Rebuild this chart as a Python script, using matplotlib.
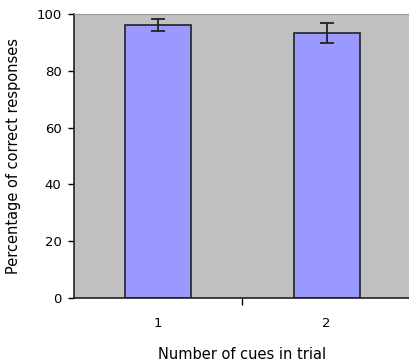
import matplotlib.pyplot as plt

# data
categories = ['1', '2']
values = [96.1, 93.4]
errors = [2.2, 3.5]

plt.rcParams['font.family'] = ['DejaVu Sans']

fig = plt.figure(figsize=(4.09, 3.61), dpi=100)
ax = fig.add_axes([74 / 409, 1 - 298 / 361, 337 / 409, 284 / 361])
ax.set_facecolor('#c0c0c0')

x = [1, 2]
ax.bar(x, values, width=0.39, color='#9999ff', edgecolor='#222222', linewidth=1.2, zorder=2)
ax.errorbar(x, values, yerr=errors, fmt='none', ecolor='#222222', elinewidth=1.3,
            capsize=5, capthick=1.3, zorder=3)

ax.set_xlim(0.5, 2.5)
ax.set_ylim(0, 100)
ax.set_yticks([0, 20, 40, 60, 80, 100])
ax.tick_params(axis='y', direction='out', length=4, width=1, labelsize=9.5, pad=5)

# category labels on minor ticks, separator tick between them
ax.set_xticks([1.5])
ax.set_xticklabels([''])
ax.set_xticks(x, minor=True)
ax.set_xticklabels(categories, minor=True)
ax.tick_params(axis='x', which='major', direction='out', length=5, width=1)
ax.tick_params(axis='x', which='minor', length=0, labelsize=9.5, pad=14)

ax.spines['right'].set_visible(False)
ax.spines['top'].set_color('#999999')
ax.spines['left'].set_color('#222222')
ax.spines['bottom'].set_color('#222222')
ax.spines['left'].set_linewidth(1.2)
ax.spines['bottom'].set_linewidth(1.2)

ax.set_ylabel('Percentage of correct responses', fontsize=10.5)
ax.yaxis.set_label_coords(-53 / 337, 0.5)
ax.set_xlabel('Number of cues in trial', fontsize=10.5, labelpad=12)

fig.savefig('out.png', dpi=100)
